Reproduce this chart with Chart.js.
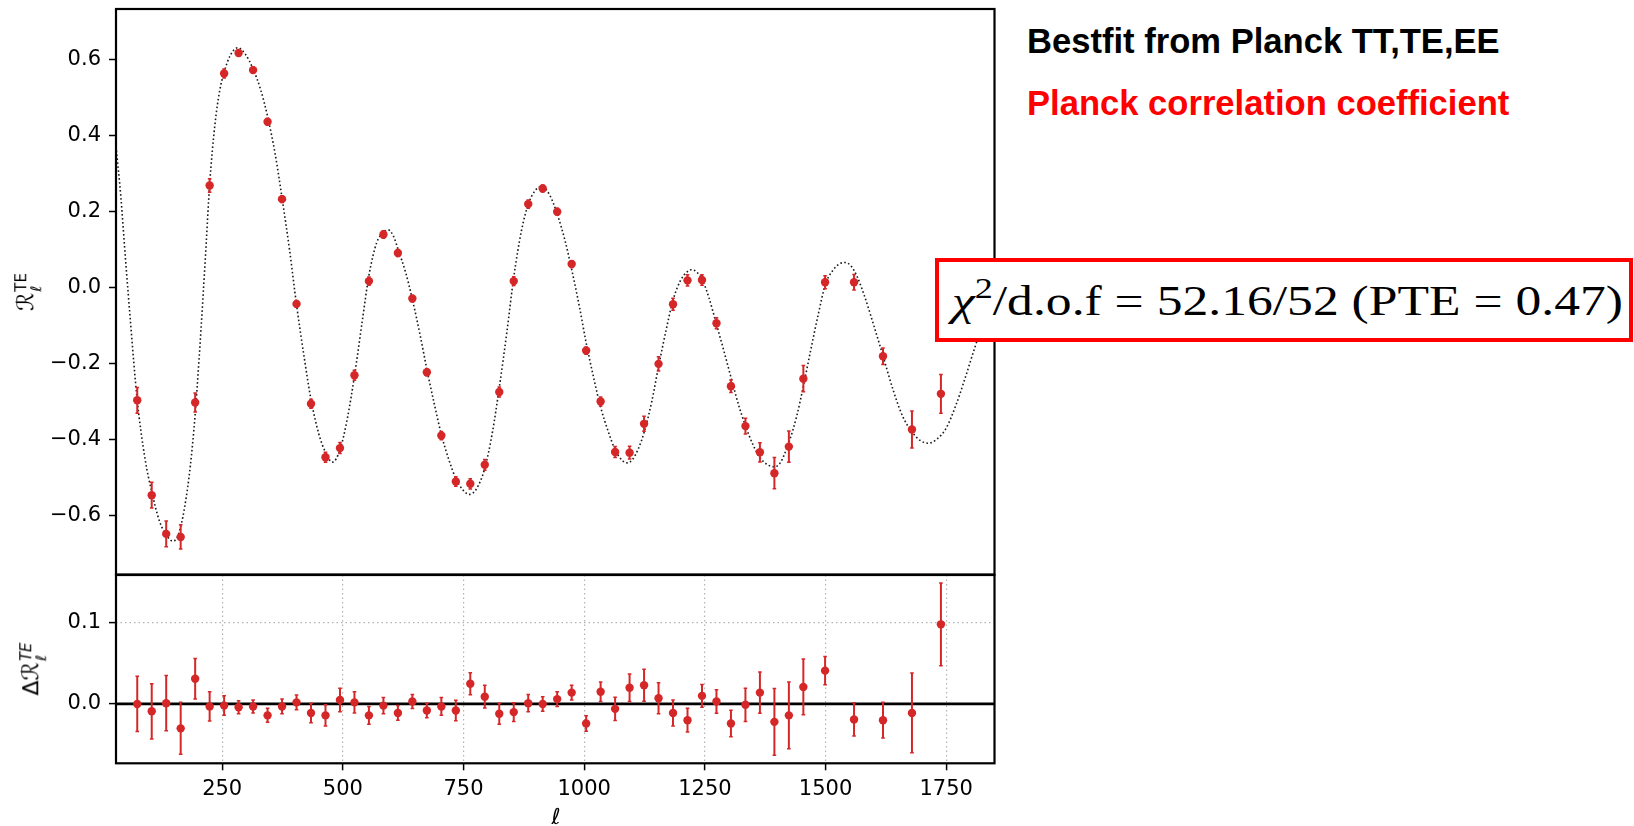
<!DOCTYPE html>
<html>
<head>
<meta charset="utf-8">
<script src="https://cdn.jsdelivr.net/npm/chart.js@4.4.1/dist/chart.umd.min.js"></script>
<style>
html,body{margin:0;padding:0;background:#fff;}
#wrap{position:relative;width:1634px;height:826px;overflow:hidden;background:#fff;}
#c1{position:absolute;left:0;top:0;}
#c2{position:absolute;left:0;top:565px;}
.lbl{position:absolute;white-space:nowrap;}
.head{font-family:'Liberation Sans',Arial,sans-serif;font-weight:bold;font-size:34.6px;line-height:34.6px;left:1027px;}
#t1{top:24px;color:#000;}
#t2{top:86px;color:#ff0000;}
#box{position:absolute;left:935px;top:258px;width:698px;height:84px;border:4px solid #ff0000;box-sizing:border-box;background:#fff;}
#chi{left:952px;top:279px;font-family:'Liberation Serif','DejaVu Serif',serif;font-size:43px;line-height:43px;color:#000;transform-origin:0 50%;}
#chi sup{font-size:0.7em;vertical-align:0.55em;line-height:0;}
.rot{transform:translate(-50%,-50%) rotate(-90deg);font-family:'DejaVu Sans',sans-serif;color:#000;}
.R{font-size:23px;font-style:italic;}
.ss{display:inline-flex;flex-direction:column;line-height:1;vertical-align:middle;font-size:15px;margin-left:1px;}
#xl{left:556px;top:816px;transform:translate(-50%,-50%);font-family:'DejaVu Sans',sans-serif;font-style:italic;font-size:22px;}
</style>
</head>
<body>
<div id="wrap">
<canvas id="c1" width="1000" height="580"></canvas>
<canvas id="c2" width="1000" height="261"></canvas>
<div id="yl1" class="lbl rot" style="left:28px;top:292px;"><span class="R">ℛ</span><span class="ss"><span>TE</span><span style="font-style:italic">ℓ</span></span></div>
<div id="yl2" class="lbl rot" style="left:33px;top:669px;"><span style="font-size:22px">Δ</span><span class="R">ℛ</span><span class="ss"><span style="font-style:italic">TE</span><span style="font-style:italic">ℓ</span></span></div>
<div id="xl" class="lbl">ℓ</div>
<div id="t1" class="lbl head">Bestfit from Planck TT,TE,EE</div>
<div id="t2" class="lbl head">Planck correlation coefficient</div>
<div id="box"></div>
<div id="chi" class="lbl"><i>χ</i><sup>2</sup>/d.o.f = 52.16/52 (PTE = 0.47)</div>
</div>
<script>
// ---- data ----
const ells = [74,104,134,164,194,224,254,284,314,344,374,404,434,464,494,524,554,584,614,644,674,704,734,764,794,824,854,884,914,944,974,1004,1034,1064,1094,1124,1154,1184,1214,1244,1274,1304,1334,1364,1394,1424,1454,1499,1559,1619,1679,1739];
const topVals = [-0.297,-0.547,-0.649,-0.657,-0.303,0.269,0.564,0.618,0.573,0.437,0.233,-0.043,-0.306,-0.447,-0.423,-0.231,0.017,0.140,0.091,-0.029,-0.223,-0.390,-0.511,-0.517,-0.467,-0.275,0.017,0.220,0.261,0.200,0.062,-0.166,-0.300,-0.433,-0.435,-0.359,-0.201,-0.044,0.019,0.020,-0.094,-0.260,-0.365,-0.434,-0.489,-0.419,-0.240,0.014,0.014,-0.181,-0.374,-0.280];
const resVals = [0.000,-0.009,0.001,-0.030,0.031,-0.003,-0.002,-0.004,-0.003,-0.014,-0.003,0.002,-0.011,-0.014,0.005,0.002,-0.014,-0.002,-0.011,0.003,-0.008,-0.003,-0.008,0.025,0.009,-0.012,-0.010,0.001,0.000,0.006,0.014,-0.024,0.015,-0.006,0.020,0.023,0.007,-0.011,-0.020,0.010,0.003,-0.024,-0.001,0.014,-0.022,-0.014,0.021,0.041,-0.019,-0.020,-0.011,0.098];
const errs = [0.034,0.034,0.034,0.032,0.025,0.018,0.012,0.008,0.008,0.0086,0.009,0.009,0.012,0.013,0.0145,0.013,0.011,0.010,0.009,0.0086,0.009,0.011,0.0127,0.0135,0.014,0.013,0.0115,0.0107,0.009,0.009,0.009,0.0096,0.012,0.0144,0.017,0.0197,0.019,0.016,0.0146,0.014,0.0145,0.0164,0.0205,0.0254,0.041,0.041,0.0344,0.0174,0.0205,0.022,0.049,0.051];
const thEll = [30,40,50,60,74,90,104,120,134,148,160,172,184,194,202,210,217,224,235,245,254,266,282,298,314,330,344,360,374,390,404,420,434,450,464,478,494,510,524,540,554,570,584,594,605,614,630,644,660,674,690,704,720,734,750,762,776,794,810,824,840,854,870,884,898,912,928,944,960,974,990,1004,1020,1034,1050,1064,1080,1090,1100,1112,1124,1140,1154,1170,1184,1200,1214,1222,1232,1244,1258,1274,1290,1304,1320,1334,1350,1364,1380,1393,1406,1424,1440,1454,1470,1485,1500,1515,1528,1540,1552,1565,1580,1600,1619,1640,1660,1679,1695,1713,1730,1750,1770,1790,1810,1830,1850];
const thVal = [0.372,0.24,0.07,-0.09,-0.297,-0.45,-0.538,-0.615,-0.652,-0.668,-0.648,-0.58,-0.47,-0.334,-0.19,-0.03,0.12,0.272,0.43,0.52,0.567,0.61,0.632,0.615,0.576,0.52,0.451,0.35,0.236,0.095,-0.045,-0.185,-0.295,-0.385,-0.434,-0.460,-0.428,-0.34,-0.233,-0.09,0.032,0.118,0.145,0.152,0.135,0.102,0.04,-0.031,-0.125,-0.215,-0.31,-0.387,-0.455,-0.503,-0.535,-0.545,-0.532,-0.476,-0.38,-0.264,-0.115,0.027,0.15,0.219,0.255,0.266,0.245,0.194,0.125,0.048,-0.05,-0.145,-0.24,-0.315,-0.38,-0.427,-0.457,-0.462,-0.453,-0.425,-0.382,-0.30,-0.208,-0.11,-0.033,0.02,0.042,0.047,0.042,0.022,-0.025,-0.097,-0.17,-0.236,-0.31,-0.364,-0.415,-0.448,-0.467,-0.472,-0.462,-0.408,-0.34,-0.26,-0.16,-0.07,0.01,0.045,0.062,0.066,0.058,0.03,-0.02,-0.10,-0.18,-0.27,-0.34,-0.38,-0.402,-0.41,-0.40,-0.37,-0.31,-0.235,-0.155,-0.08,-0.01];
const xTicks = [250,500,750,1000,1250,1500,1750];
const yTicksTop = [-0.6,-0.4,-0.2,0.0,0.2,0.4,0.6];
const yTicksBot = [0.0,0.1];

// ---- helpers ----
const RED = '#d62728';
Chart.defaults.font.family = 'DejaVu Sans';
const fontTick = {family:'DejaVu Sans', size:21};
const fmt = v => (v < -1e-9 ? '\u2212' : '') + Math.abs(v).toFixed(1);
const errTable = vals => { const d = []; ells.forEach((x,i) => { d.push({x, y: vals[i]-errs[i]}, {x, y: vals[i]+errs[i]}, {x, y: null}); }); return d; };
const ptTable = vals => ells.map((x,i) => ({x, y: vals[i]}));
const theory = thEll.map((x,i) => ({x, y: thVal[i]}));
const noPad = s => { s.paddingTop = 0; s.paddingBottom = 0; s.paddingLeft = 0; s.paddingRight = 0; };

const framePlugin = {id:'frame', afterDraw(chart){
  const {ctx, chartArea:a} = chart; ctx.save();
  ctx.strokeStyle = '#000'; ctx.lineWidth = 2.2;
  ctx.strokeRect(a.left, a.top, a.right-a.left, a.bottom-a.top); ctx.restore();
}};
const zeroPlugin = {id:'zero', beforeDatasetsDraw(chart){
  const {ctx, chartArea:a} = chart; const y = chart.scales.y.getPixelForValue(0);
  ctx.save(); ctx.strokeStyle = '#000'; ctx.lineWidth = 2.8;
  ctx.beginPath(); ctx.moveTo(a.left, y); ctx.lineTo(a.right, y); ctx.stroke(); ctx.restore();
}};

function dataSets(vals, withTheory){
  const ds = [];
  if (withTheory) ds.push({type:'line', data: theory, borderColor:'#1a1a1a', borderWidth:1.6, borderDash:[1.6,2.4], pointRadius:0, cubicInterpolationMode:'monotone', fill:false, order:3});
  ds.push({type:'line', data: errTable(vals), borderColor: RED, borderWidth:2, pointStyle:'line', pointRadius:1.8, pointBorderColor:RED, pointBorderWidth:1.5, pointBackgroundColor:RED, spanGaps:false, fill:false, order:2});
  ds.push({type:'scatter', data: ptTable(vals), backgroundColor: RED, borderColor: RED, pointRadius:4.2, borderWidth:0, order:1});
  return ds;
}

new Chart(document.getElementById('c1'), {
  type:'scatter',
  data:{datasets: dataSets(topVals, true)},
  options:{
    responsive:false, animation:false, events:[],
    layout:{padding:{left:0,right:4,top:9,bottom:0}},
    plugins:{legend:{display:false}, tooltip:{enabled:false}},
    scales:{
      x:{type:'linear', min:30, max:1850, ticks:{display:false}, grid:{display:false}, border:{display:false}, afterFit: s => { s.height = 5; noPad(s); }},
      y:{type:'linear', min:-0.756, max:0.734,
         afterFit: s => { s.width = 116; noPad(s); },
         afterBuildTicks: s => { s.ticks = yTicksTop.map(v => ({value:v})); },
         ticks:{font:fontTick, color:'#000', padding:8, callback: v => fmt(v)},
         grid:{drawOnChartArea:false, drawTicks:true, tickLength:7, tickWidth:1.5, tickColor:'#000'},
         border:{display:false}}
    }
  },
  plugins:[framePlugin]
});

new Chart(document.getElementById('c2'), {
  type:'scatter',
  data:{datasets: dataSets(resVals, false)},
  options:{
    responsive:false, animation:false, events:[],
    layout:{padding:{left:0,right:4,top:10,bottom:0}},
    plugins:{legend:{display:false}, tooltip:{enabled:false}},
    scales:{
      x:{type:'linear', min:30, max:1850,
         afterFit: s => { s.height = 62.7; noPad(s); },
         afterBuildTicks: s => { s.ticks = xTicks.map(v => ({value:v})); },
         ticks:{font:fontTick, color:'#000', padding:7, maxRotation:0, callback: v => String(v)},
         grid:{color:'#b3b3b3', lineWidth:1.2, drawTicks:true, tickLength:7, tickWidth:1.5, tickColor:'#000', tickBorderDash:[]},
         border:{display:false, dash:[1.5,3]}},
      y:{type:'linear', min:-0.073, max:0.1587,
         afterFit: s => { s.width = 116; noPad(s); },
         afterBuildTicks: s => { s.ticks = yTicksBot.map(v => ({value:v})); },
         ticks:{font:fontTick, color:'#000', padding:8, callback: v => fmt(v)},
         grid:{color:'#b3b3b3', lineWidth:1.2, drawTicks:true, tickLength:7, tickWidth:1.5, tickColor:'#000', tickBorderDash:[]},
         border:{display:false, dash:[1.5,3]}}
    }
  },
  plugins:[zeroPlugin, framePlugin]
});

// fit chi-square text width to the box
const chi = document.getElementById('chi');
const w = chi.getBoundingClientRect().width;
chi.style.transform = 'scaleX(' + (671 / w) + ')';
</script>
</body>
</html>
